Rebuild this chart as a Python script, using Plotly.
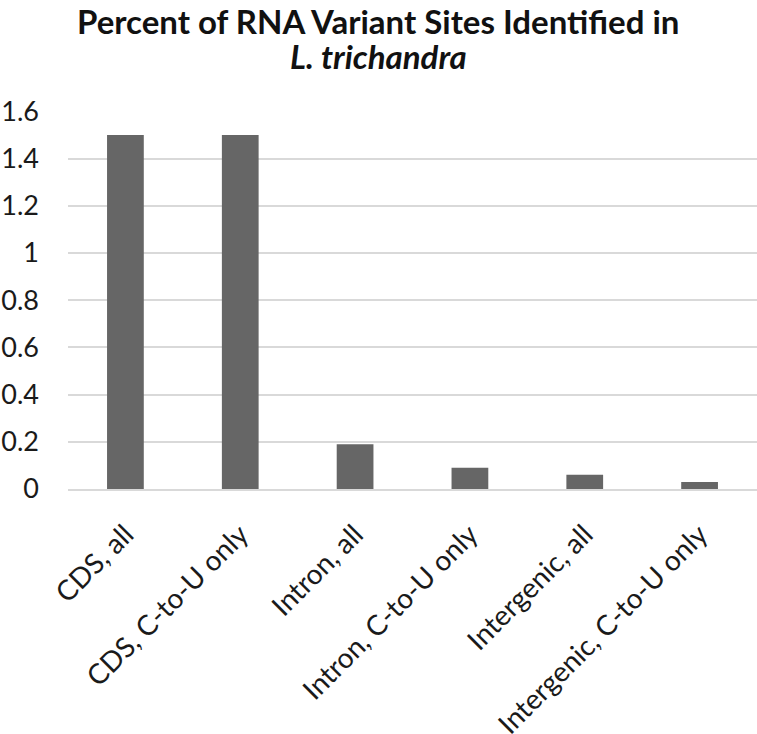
import plotly.graph_objects as go

categories = ["CDS, all", "CDS, C-to-U only", "Intron, all",
              "Intron, C-to-U only", "Intergenic, all", "Intergenic, C-to-U only"]
percent = [1.5, 1.5, 0.19, 0.09, 0.06, 0.03]
y_ticks = [0, 0.2, 0.4, 0.6, 0.8, 1, 1.2, 1.4, 1.6]
y_tick_labels = ["0", "0.2", "0.4", "0.6", "0.8", "1", "1.2", "1.4", "1.6"]
title_lines = ["<b>Percent of RNA Variant Sites Identified in</b>", "<b><i>L. trichandra</i></b>"]

fig = go.Figure()
fig.add_trace(go.Bar(x=categories, y=percent, marker=dict(color="#666666", line=dict(width=0))))

# plot area: 68..757 px wide, 111..489 px tall
for txt, ypos in zip(title_lines, [1.238, 1.146]):
    fig.add_annotation(text=txt, xref="paper", yref="paper", x=0.45, y=ypos,
                       xanchor="center", yanchor="middle", showarrow=False,
                       font=dict(size=33, color="#111111"))

fig.update_layout(
    width=757, height=734,
    margin=dict(l=68, r=0, t=111, b=245, autoexpand=False),
    paper_bgcolor="white", plot_bgcolor="white",
    font=dict(family="Lato, Noto Sans, sans-serif", color="#1a1a1a"),
    bargap=0.68,
    showlegend=False,
)
fig.update_yaxes(
    range=[0, 1.602], tickvals=y_ticks, ticktext=y_tick_labels,
    showgrid=True, gridcolor="#d9d9d9", gridwidth=2,
    zeroline=False, showline=False, ticks="", automargin=False,
    tickfont=dict(size=27), ticklabelstandoff=28,
)
fig.update_xaxes(
    tickangle=-45, tickfont=dict(size=28), showline=True, linecolor="#d9d9d9", linewidth=2,
    ticks="", ticklabelstandoff=16, automargin=False,
)

fig.write_html("out.html", config={"displayModeBar": False},
               post_script="document.body.style.margin='0';")
